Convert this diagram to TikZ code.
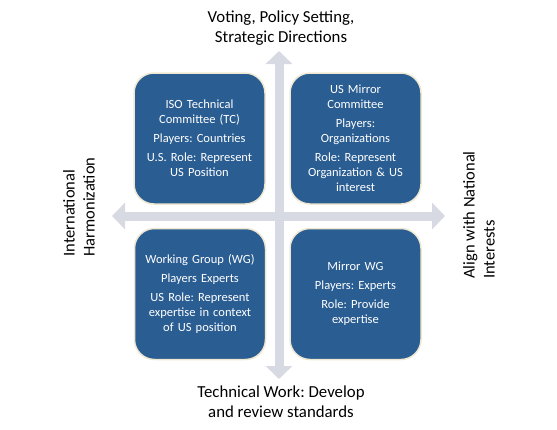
\documentclass[tikz,border=0pt]{standalone}
\usepackage{fontspec}
\setmainfont{Carlito}
\usetikzlibrary{arrows.meta}
\definecolor{boxblue}{HTML}{2A5D92}
\definecolor{boxedge}{HTML}{EEE8D2}
\definecolor{axisgray}{HTML}{D7DAE3}
\frenchspacing
\begin{document}
\begin{tikzpicture}[x=1pt,y=-1pt,
  quad/.style={draw=boxedge, line width=1.5pt, fill=boxblue, rounded corners=20pt,
    minimum width=131pt, minimum height=131pt, text width=127pt, align=center,
    text=white, font=\frenchspacing\fontsize{12.5}{15}\selectfont, inner sep=0pt},
  axis/.style={draw=axisgray, line width=9pt,
    {Triangle[width=26pt,length=13pt]}-{Triangle[width=26pt,length=13pt]}},
  lab/.style={font=\frenchspacing\fontsize{16.8}{20}\selectfont, text=black, align=center},
  sidelab/.style={font=\frenchspacing\fontsize{16.5}{20}\selectfont, text=black, align=left, rotate=90}]
\useasboundingbox (0,0) rectangle (557,429);
\coordinate (top) at (279,51);
\coordinate (bot) at (279,379);
\coordinate (lft) at (112,216);
\coordinate (rgt) at (445,216);
\draw[axis] (top) -- (bot);
\draw[axis] (lft) -- (rgt);
\node[quad] (tl) at (199.5,138.5) {ISO Technical\\Committee (TC)\\[4pt]Players: Countries\\[4pt]U.S. Role: Represent\\US Position};
\node[quad] (tr) at (355.5,138.5) {US Mirror\\Committee\\[4pt]Players:\\Organizations\\[4pt]Role: Represent\\Organization \& US\\interest};
\node[quad] (bl) at (200,294) {Working Group (WG)\\[4pt]Players Experts\\[4pt]US Role: Represent\\expertise in context\\of US position};
\node[quad] (br) at (355.5,294) {Mirror WG\\[4pt]Players: Experts\\[4pt]Role: Provide\\expertise};
\node[lab] (toplab) at (281,28) {Voting, Policy Setting,\\Strategic Directions};
\node[lab] (botlab) at (281,402) {Technical Work: Develop\\and review standards};
\node[sidelab] (leftlab) at (79,207) {International\\Harmonization};
\node[sidelab] (rightlab) at (479,215) {Align with National\\Interests};
\end{tikzpicture}
\end{document}
